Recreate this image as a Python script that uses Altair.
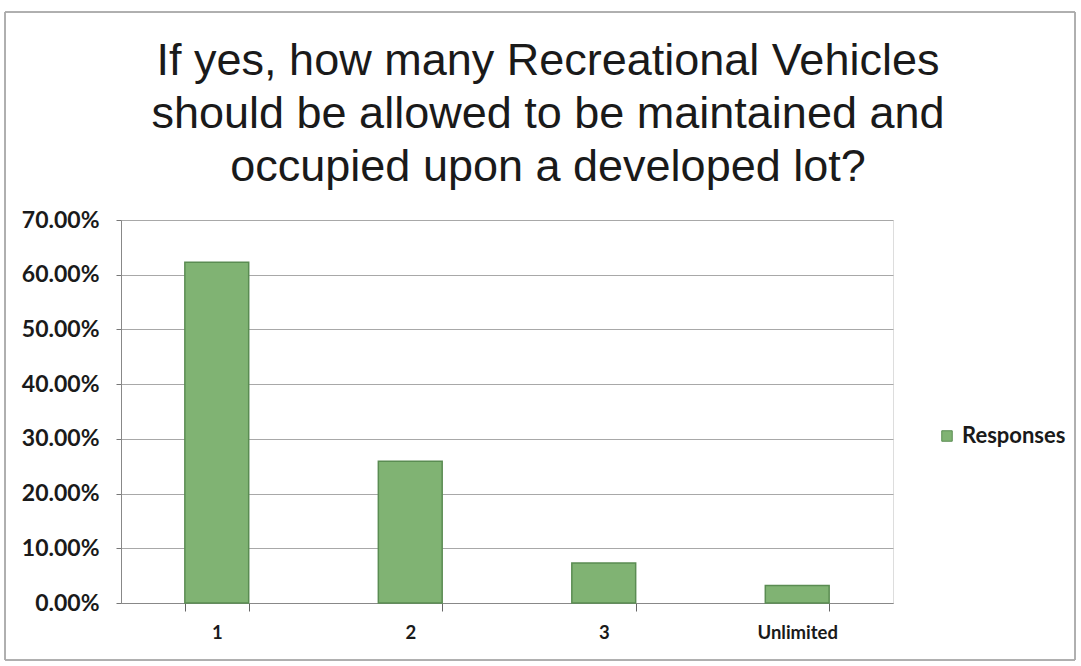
import altair as alt
import pandas as pd

categories = ["1", "2", "3", "Unlimited"]
values = [0.623, 0.259, 0.073, 0.032]
series = ["Responses"] * 4

df = pd.DataFrame({"cat": categories, "val": values, "series": series})

W, H = 772, 383

bars = alt.Chart(df).mark_bar(
    fill="#80b373", stroke="#5a8c52", strokeWidth=1.5
).encode(
    x=alt.X("cat:N", sort=categories, title=None,
            scale=alt.Scale(paddingInner=0.67, paddingOuter=0.33),
            axis=alt.Axis(labelAngle=0, labelFont="Lato", labelFontWeight="bold",
                          labelFontSize=18.5, labelColor="#1a1a1a", labelPadding=12,
                          tickBand="extent", tickSize=8, tickColor="#666",
                          domainColor="#888", grid=False)),
    y=alt.Y("val:Q", title=None,
            scale=alt.Scale(domain=[0, 0.7]),
            axis=alt.Axis(format=".2%", values=[0, .1, .2, .3, .4, .5, .6, .7],
                          labelFont="Lato", labelFontWeight="bold", labelFontSize=23,
                          labelColor="#1a1a1a", labelPadding=17,
                          tickSize=5, tickColor="#777", domainColor="#888",
                          gridColor="#a8a8a8", gridWidth=1)),
    color=alt.Color("series:N", scale=alt.Scale(range=["#80b373"]), title=None,
                    legend=alt.Legend(orient="none", legendX=815, legendY=205,
                                      symbolType="square", symbolSize=110,
                                      symbolStrokeColor="#5a8c52", symbolStrokeWidth=1,
                                      labelFont="Lato", labelFontWeight="bold",
                                      labelFontSize=22, labelColor="#1a1a1a")),
)

frame = alt.Chart(df).mark_rect(
    fill=None, stroke="#aaaaaa", strokeWidth=1
).encode(
    x=alt.value(-116), x2=alt.value(954), y=alt.value(-208), y2=alt.value(440)
)

chart = alt.layer(frame, bars).properties(
    width=W, height=H,
    title=alt.TitleParams(
        ["If yes, how many Recreational Vehicles",
         "should be allowed to be maintained and",
         "occupied upon a developed lot?"],
        font="Liberation Sans", fontSize=45, fontWeight="normal", color="#1a1a1a",
        anchor="middle", frame="group", baseline="bottom",
        dx=41, dy=240, lineHeight=53, offset=17),
).configure_view(stroke=None).configure(
    autosize=alt.AutoSizeParams(type="none"),
    padding={"left": 121, "top": 220, "right": 188, "bottom": 63},
    background="white",
)

chart.save("out.html", embed_options={"renderer": "svg", "actions": False})
